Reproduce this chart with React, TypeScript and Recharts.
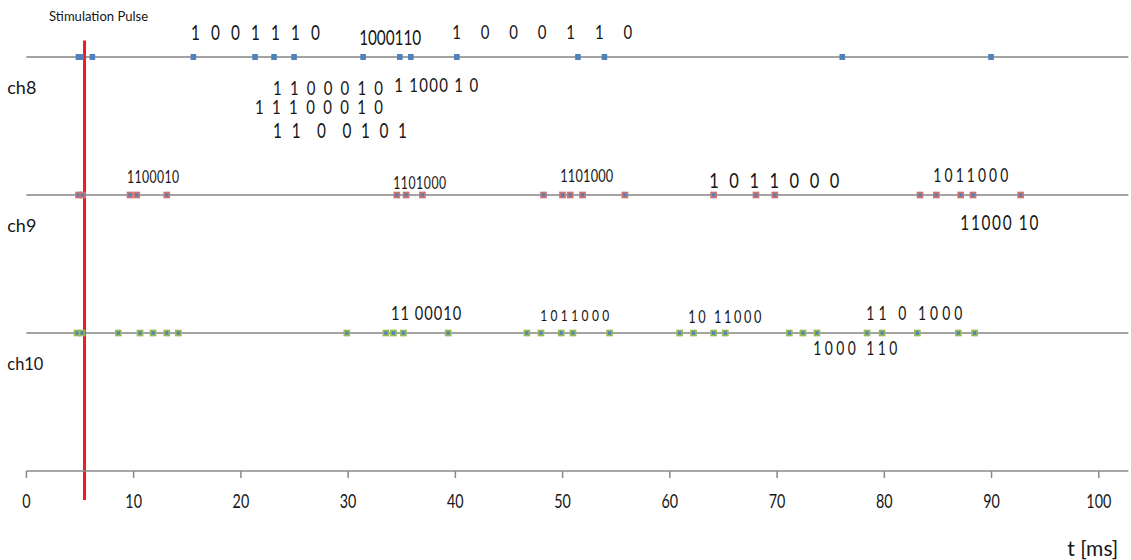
import React from 'react';
import { ScatterChart, Scatter, XAxis, YAxis, ReferenceLine } from 'recharts';

// Spike times (ms) recorded on each channel
const ch8Spikes = [4.85, 5.1, 6.15, 15.57, 21.32, 23.09, 24.96, 31.4, 34.82, 35.85, 40.14, 51.43, 53.9, 76.08, 89.95];
const ch9Spikes = [4.86, 5.23, 9.66, 10.29, 13.09, 34.54, 35.41, 36.93, 48.22, 49.99, 50.71, 51.86, 55.81, 64.08, 68.03, 69.79, 83.33, 84.85, 87.12, 88.27, 92.71];
const ch10Spikes = [4.72, 5.19, 8.57, 10.6, 11.81, 13.09, 14.17, 29.88, 33.52, 34.23, 35.16, 39.33, 46.67, 47.98, 49.87, 50.96, 54.38, 60.91, 62.21, 64.08, 65.17, 71.14, 72.41, 73.72, 78.39, 79.79, 83.08, 86.9, 88.42];

const channelNames = ['ch8', 'ch9', 'ch10'];
const channelLevels = [3, 2, 1];
const channelSpikes = [ch8Spikes, ch9Spikes, ch10Spikes];

const xTicks = [0, 10, 20, 30, 40, 50, 60, 70, 80, 90, 100];
const stimTime = 5.42;
const stimLabel = 'Stimulation Pulse';

// Decoded bit words, with the time / level where each word starts
const bitWords = [
  '1 0 0 1 1 1 0', '1000110', '1 0 0 0 1 1 0',
  '1 1 0 0 0 1 0', '1 1 1 0 0 0 1 0', '1 1  0  0 1 0 1', '1 1000 1 0',
  '1100010', '1101000', '1101000', '1 0 1 1 0 0 0', '1011000', '11000 10',
  '11 00010', '1011000', '10 11000', '11 0 1000', '1000 110',
];
const bitTimes = [15.35, 31.03, 39.7, 23.0, 21.32, 23.0, 34.29, 9.38, 34.2, 49.78, 63.68, 84.57, 87.09, 34.01, 47.91, 61.72, 78.32, 73.38];
const bitLevels = [3.174, 3.138, 3.181, 2.775, 2.638, 2.464, 2.797, 2.13, 2.087, 2.138, 2.109, 2.145, 1.797, 1.145, 1.13, 1.116, 1.145, 0.891];

// Typography of each bit word: font size and rendered width (px)
const bitFontSizes = [20.5, 20.5, 20, 20, 20, 20.5, 20, 16.3, 16.3, 17, 22, 18.5, 20.5, 19.5, 16, 17, 18.5, 18.5];
const bitWidths = [129, 62, 180, 110, 128, 134, 84, 52, 53, 53, 130, 75, 78, 70, 69, 73, 96, 84];

const FONT = "Lato, 'Open Sans', sans-serif";
const TEXT_COLOR = '#161616';
const SQUEEZE = 0.75;

type SqueezedProps = {
  x: number;
  y: number;
  text: string;
  size: number;
  width: number;
  anchor?: 'start' | 'middle' | 'end';
  adjust?: 'spacing' | 'spacingAndGlyphs';
};

// Narrow text, vertically centred on (x, y)
function Squeezed({ x, y, text, size, width, anchor = 'start', adjust = 'spacing' }: SqueezedProps) {
  return (
    <text
      transform={`translate(${x} ${y + 0.36 * size}) scale(${SQUEEZE} 1)`}
      x={0}
      y={0}
      fontSize={size}
      fontFamily={FONT}
      fill={TEXT_COLOR}
      textAnchor={anchor}
      textLength={width / SQUEEZE}
      lengthAdjust={adjust}
      xmlSpace="preserve"
      style={{ whiteSpace: 'pre' }}
    >
      {text}
    </text>
  );
}

const spikeRows = channelSpikes.map((list, c) => list.map((t) => ({ t, v: channelLevels[c] })));
const wordRows = bitWords.map((text, i) => ({ t: bitTimes[i], v: bitLevels[i], i }));
const stimRows = [{ t: 6.73, v: 3.297 }];

const markerStyles = [
  { stroke: '#4F81BD', fill: '#4F81BD', solid: true },
  { stroke: '#d07472', fill: '#4F81BD', solid: false },
  { stroke: '#9BBB59', fill: '#4F81BD', solid: false },
];

const makeSpike = (c: number) => (props: any) => {
  const { cx, cy } = props;
  const s = markerStyles[c];
  if (s.solid) {
    return <rect x={cx - 2.8} y={cy - 3} width={5.6} height={6} fill={s.fill} />;
  }
  return (
    <rect x={cx - 2.5} y={cy - 2.5} width={5} height={5} fill={s.fill} stroke={s.stroke} strokeWidth={1.7} />
  );
};

const WordShape = (props: any) => {
  const { cx, cy, payload } = props;
  const i = payload.i;
  return <Squeezed x={cx} y={cy} text={bitWords[i]} size={bitFontSizes[i]} width={bitWidths[i]} />;
};

const StimShape = (props: any) => (
  <Squeezed x={props.cx} y={props.cy} text={stimLabel} size={14} width={99} anchor="middle" adjust="spacingAndGlyphs" />
);

const TimeTick = (props: any) => {
  const { x, y, payload } = props;
  const label = String(payload.value);
  return <Squeezed x={x} y={y + 21} text={label} size={19} width={8.3 * label.length} anchor="middle" adjust="spacingAndGlyphs" />;
};

const ChannelTick = (props: any) => {
  const { y, payload } = props;
  const level = Math.round(payload.value + 0.22);
  const idx = channelLevels.indexOf(level);
  const name = channelNames[idx];
  if (!name) return null;
  return <Squeezed x={7.3} y={y} text={name} size={18} width={name.length === 3 ? 29 : 36} adjust="spacingAndGlyphs" />;
};

const TimeTitle = (props: any) => {
  const vb = props.viewBox || {};
  return (
    <Squeezed x={vb.x + vb.width - 35.6} y={vb.y + 77} text="t [ms]" size={21} width={51} anchor="middle" adjust="spacingAndGlyphs" />
  );
};

const channelTickValues = channelLevels.map((l) => l - 0.22);

export default function App() {
  return (
    <div style={{ position: 'absolute', left: 0, top: 0, width: 1131, height: 560, background: '#ffffff' }}>
      <ScatterChart width={1131} height={560} margin={{ top: 15.6, right: 2.6, bottom: 59, left: 0 }}>
        <XAxis
          type="number"
          dataKey="t"
          domain={[0, 102.76]}
          ticks={xTicks}
          interval={0}
          height={30}
          tickSize={7}
          stroke="#8a8a8a"
          strokeWidth={1.5}
          tickLine={{ stroke: '#8a8a8a', strokeWidth: 1.5 }}
          tick={<TimeTick />}
          label={{ content: (p: any) => <TimeTitle {...p} /> }}
        />
        <YAxis
          type="number"
          dataKey="v"
          domain={[0, 3.3]}
          ticks={channelTickValues}
          interval={0}
          width={26.4}
          axisLine={false}
          tickLine={false}
          tick={<ChannelTick />}
        />
        {channelLevels.map((lvl) => (
          <ReferenceLine key={lvl} y={lvl} stroke="#a3a3a3" strokeWidth={2} />
        ))}
        {spikeRows.map((rows, c) => (
          <Scatter key={channelNames[c]} name={channelNames[c]} data={rows} shape={makeSpike(c)} isAnimationActive={false} />
        ))}
        <Scatter name="words" data={wordRows} shape={WordShape} isAnimationActive={false} />
        <Scatter name="stim" data={stimRows} shape={StimShape} isAnimationActive={false} />
        <ReferenceLine
          segment={[{ x: stimTime, y: -0.21 }, { x: stimTime, y: 3.12 }]}
          stroke="#ee1c25"
          strokeWidth={3}
          ifOverflow="visible"
        />
      </ScatterChart>
    </div>
  );
}
